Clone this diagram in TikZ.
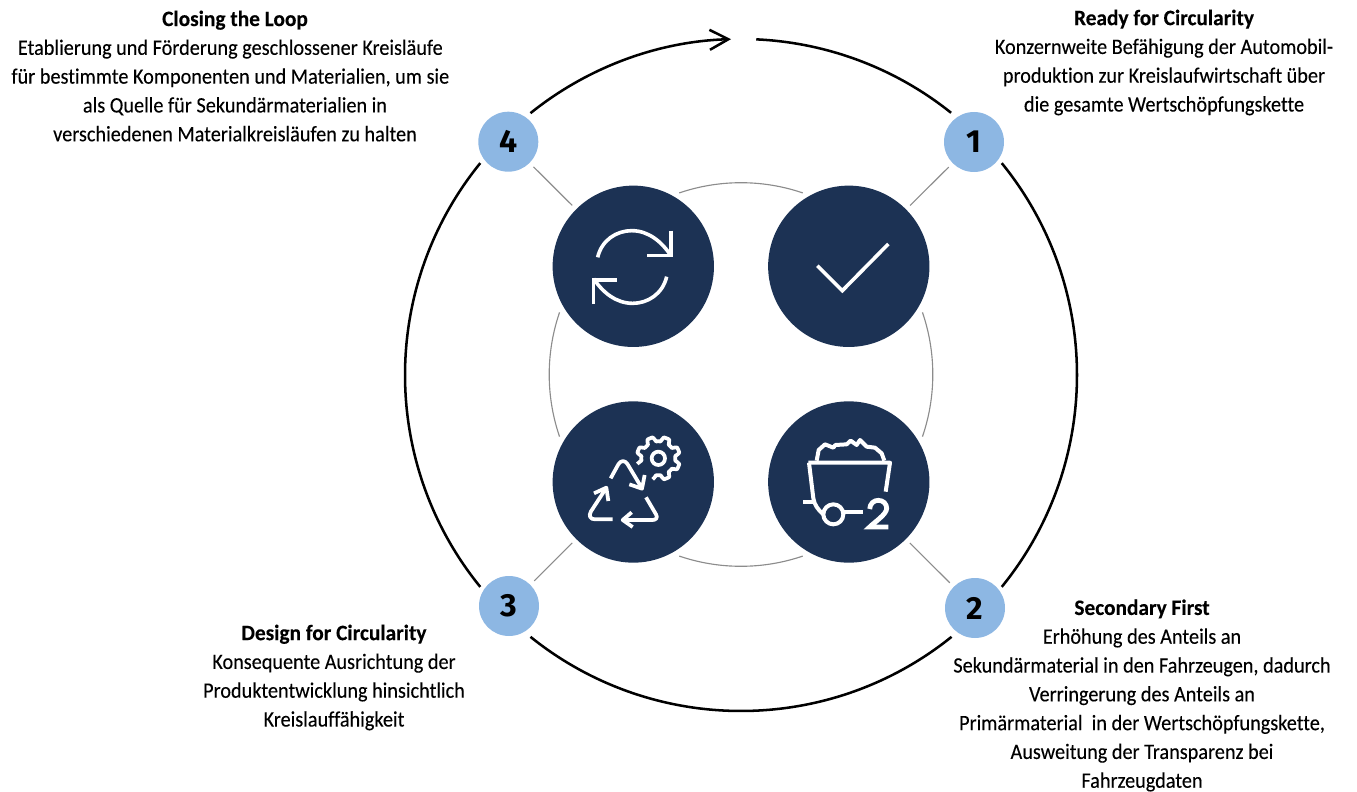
\documentclass[tikz,border=0pt]{standalone}
\usepackage{fontspec}
\setmainfont{Carlito}[Ligatures=NoCommon,UprightFeatures={FakeStretch=0.92,FakeBold=0.15},BoldFeatures={FakeStretch=0.97,FakeBold=0.2}]
\newfontfamily\numfont{Fira Sans}
\usetikzlibrary{arrows.meta}
\definecolor{navy}{HTML}{1C3254}
\definecolor{sky}{HTML}{8DB7E3}
\definecolor{ringgray}{HTML}{8C8C8C}
\tikzset{
  bigdisc/.style={circle,fill=navy,minimum size=121pt,inner sep=0pt},
  badge/.style={circle,fill=sky,minimum size=45pt,inner sep=0pt,font=\numfont\bfseries\fontsize{24}{24}\selectfont,text=black},
  spoke/.style={draw=ringgray,line width=0.85pt,shorten <=4pt,shorten >=4pt},
  innerring/.style={draw=ringgray,line width=0.85pt},
  outerring/.style={draw=black,line width=1.9pt},
  icon/.style={draw=white,line width=2.7pt,line join=round},
  iconthin/.style={draw=white,line width=2.8pt,line join=round,line cap=butt},
  cartline/.style={draw=white,line width=3pt,line join=round,line cap=butt},
  desc/.style={align=center,inner sep=0pt,font=\fontsize{16.5}{21.6}\selectfont},
  zoomA/.style={shift={(540,170)},x=0.25pt,y=-0.25pt},
  zoomB/.style={shift={(540,395)},x=0.25pt,y=-0.25pt}
}
\begin{document}
\begin{tikzpicture}[x=0.75pt,y=-0.75pt]
\useasboundingbox (0,0) rectangle (1357,792);
% discs and badges
\node[bigdisc] (c4) at (633.3,266.3) {};
\node[bigdisc] (c1) at (848.8,266.3) {};
\node[bigdisc] (c3) at (633.3,482) {};
\node[bigdisc] (c2) at (848.8,482) {};
\node[badge] (b4) at (508.3,141.7) {4};
\node[badge] (b1) at (974,142) {1};
\node[badge] (b3) at (509,606) {3};
\node[badge] (b2) at (975,608) {2};
% spokes
\draw[spoke] (b1) -- (c1);
\draw[spoke] (b2) -- (c2);
\draw[spoke] (b3) -- (c3);
\draw[spoke] (b4) -- (c4);
% inner ring
\coordinate (mid) at (741,374.5);
\draw[innerring] ([shift={(mid)}]108.8:143.85pt) arc[start angle=108.8,end angle=71.2,radius=143.85pt];
\draw[innerring] ([shift={(mid)}]18.9:143.85pt) arc[start angle=18.9,end angle=-18.9,radius=143.85pt];
\draw[innerring] ([shift={(mid)}]-71.2:143.85pt) arc[start angle=-71.2,end angle=-108.8,radius=143.85pt];
\draw[innerring] ([shift={(mid)}]161.1:143.85pt) arc[start angle=161.1,end angle=198.9,radius=143.85pt];
% outer ring
\coordinate (cen) at (741,375);
\draw[outerring,-{Straight Barb[length=14pt,width=15pt]}] ([shift={(cen)}]128.8:252pt) arc[start angle=128.8,end angle=91.7,radius=252pt];
\draw[outerring] ([shift={(cen)}]87.4:252pt) arc[start angle=87.4,end angle=51.3,radius=252pt];
\draw[outerring] ([shift={(cen)}]39.1:252pt) arc[start angle=39.1,end angle=-39.1,radius=252pt];
\draw[outerring] ([shift={(cen)}]-51.2:252pt) arc[start angle=-51.2,end angle=-128.8,radius=252pt];
\draw[outerring] ([shift={(cen)}]-140.9:252pt) arc[start angle=-140.9,end angle=-219.1,radius=252pt];
% refresh icon
\begin{scope}[zoomA]
\draw[icon] (173,262) .. controls (185,210) and (230,182) .. (275,182) .. controls (325,182) and (365,215) .. (392,256);
\draw[icon,line join=miter] (393,182) -- (393,256) -- (322,256);
\draw[icon] (380,320) .. controls (368,372) and (323,400) .. (278,400) .. controls (228,400) and (188,367) .. (161,326);
\draw[icon,line join=miter] (160,402) -- (160,330) -- (232,330);
% check icon
\draw[icon,line join=miter] (832,287) -- (907,362) -- (1045,222);
\end{scope}
% recycling and gear icon
\begin{scope}[zoomB]
\draw[iconthin] (212,250) -- (235,208) .. controls (243,195) and (255,195) .. (263,208) -- (306,280);
\draw[iconthin] (268,268) -- (306,281) -- (314,240);
\draw[iconthin] (218,373) -- (165,373) .. controls (150,373) and (145,362) .. (153,349) -- (198,280);
\draw[iconthin] (162,295) -- (199,278) -- (205,318);
\draw[iconthin] (318,307) -- (348,358) .. controls (354,368) and (348,375) .. (338,375) -- (250,375);
\draw[iconthin] (275,352) -- (248,375) -- (278,396);
\draw[iconthin] (355,190) circle (20);
\draw[iconthin] plot[domain=165:465,samples=161,smooth] ({355+(58-7*max(-1,min(1,2*cos(8*\x))))*cos(\x)},{190+(58-7*max(-1,min(1,2*cos(8*\x))))*sin(\x)});
% mine cart icon
\draw[cartline] (805,203) -- (1050,203) -- (1037,290);
\draw[cartline] (807,203) -- (820,310) .. controls (823,330) and (835,345) .. (850,358);
\draw[cartline] (790,322) -- (822,322);
\draw[cartline] (880,358) circle (30);
\draw[cartline] (910,352) -- (970,352);
\draw[cartline] (830,197) -- (836,165) -- (855,148) -- (880,158) -- (886,150) -- (920,148) -- (932,137) -- (950,150) -- (960,135) -- (980,155) -- (1005,158) -- (1025,175) -- (1033,197);
\draw[cartline,line width=3.6pt,line join=miter] (989,342) .. controls (990,325) and (1002,316) .. (1015,316) .. controls (1030,316) and (1040,327) .. (1040,340) .. controls (1040,358) and (1005,380) .. (989,396) -- (1045,396);
\end{scope}
% texts
\node[desc] (t4) at (235,76) {\textbf{Closing the Loop}\\Etablierung und Förderung geschlossener Kreisläufe\kern7pt\\für bestimmte Komponenten und Materialien, um sie\kern7pt\\als Quelle für Sekundärmaterialien in\\verschiedenen Materialkreisläufen zu halten};
\node[desc] (t1) at (1164,62.5) {\textbf{Ready for Circularity}\\Konzernweite Befähigung der Automobil-\\produktion zur Kreislaufwirtschaft über\\die gesamte Wertschöpfungskette};
\node[desc] (t3) at (334,677.5) {\textbf{Design for Circularity}\\Konsequente Ausrichtung der\\Produktentwicklung hinsichtlich\\Kreislauffähigkeit};
\node[desc] (t2) at (1142,695.5) {\textbf{Secondary First}\\Erhöhung des Anteils an\\Sekundärmaterial in den Fahrzeugen, dadurch\\Verringerung des Anteils an\\Primärmaterial\ \ in der Wertschöpfungskette,\\Ausweitung der Transparenz bei\\Fahrzeugdaten};
\end{tikzpicture}
\end{document}
